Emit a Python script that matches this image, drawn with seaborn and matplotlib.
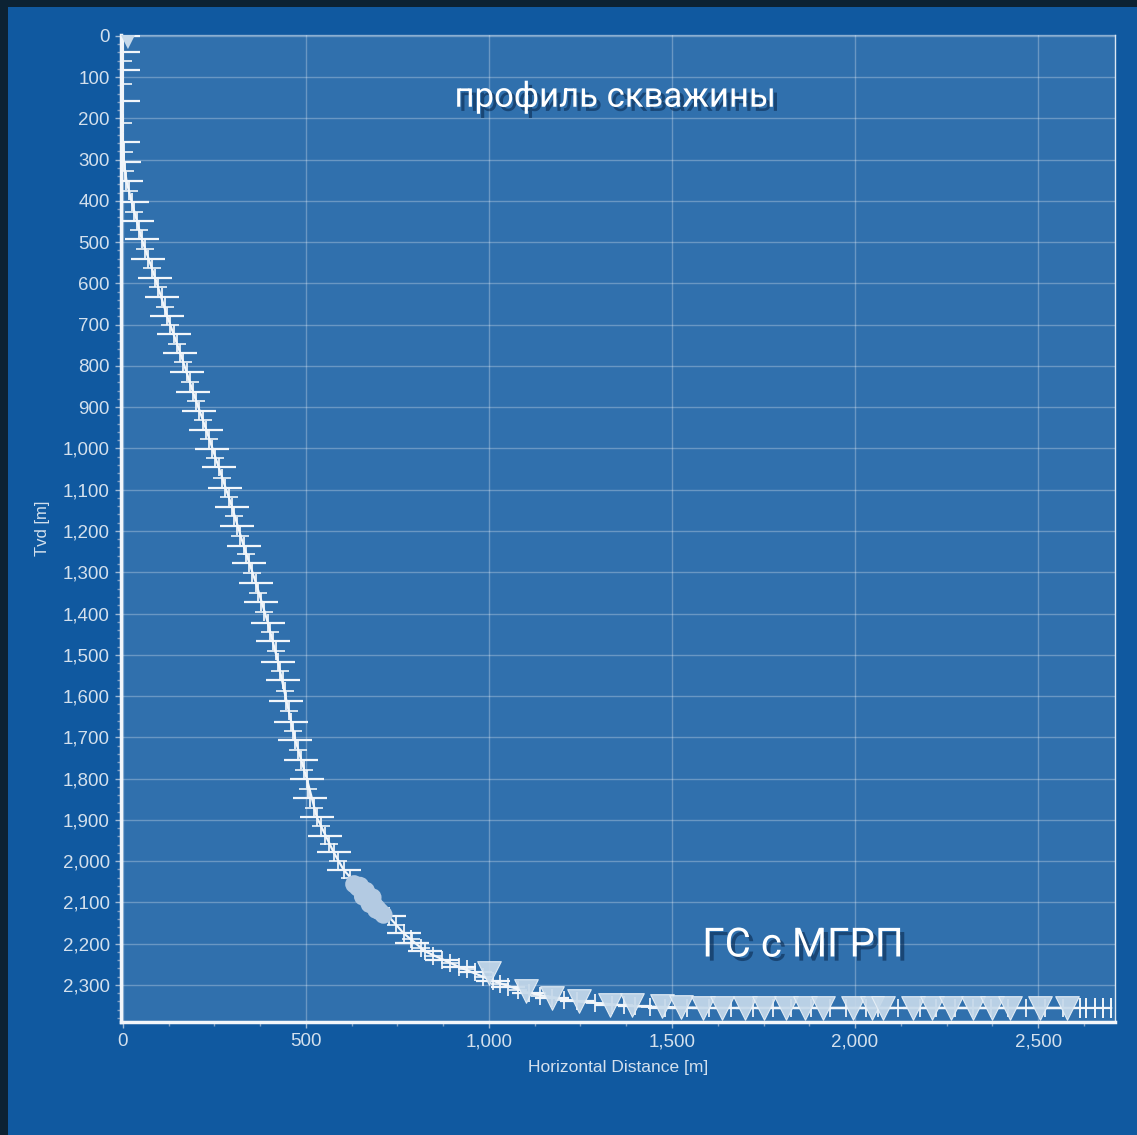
import numpy as np
import pandas as pd
import seaborn as sns
import matplotlib.pyplot as plt
from matplotlib.ticker import MultipleLocator, FuncFormatter
import matplotlib.patheffects as pe
from matplotlib.patches import Rectangle

sns.set_theme(style="white")
plt.rcParams['font.family'] = ['Liberation Sans', 'DejaVu Sans']

# ---- data ----
# main survey stations (long bars)
st_tvd = [0, 38, 84, 158, 258, 306, 352, 402, 448, 493, 540, 586, 632, 679, 723, 769,
          814, 864, 909, 955, 1001, 1046, 1096, 1141, 1187, 1236, 1278, 1327, 1372, 1422,
          1466, 1517, 1562, 1612, 1662, 1706, 1756, 1802, 1848, 1894, 1939, 1979, 2021,
          2134, 2175, 2199, 2219, 2240, 2256, 2268, 2290, 2304, 2320, 2332, 2340, 2349,
          2352, 2355, 2356, 2356, 2356, 2356, 2356, 2356, 2356, 2356, 2356, 2356, 2356,
          2356, 2356, 2356, 2356, 2356, 2356, 2356, 2356, 2356, 2356]
st_hd = [0, 0, 0, 0, 1, 3, 10, 24, 38, 52, 70, 88, 106, 121, 139, 157,
         174, 192, 209, 228, 244, 262, 280, 298, 312, 330, 344, 364, 377, 396,
         410, 424, 437, 447, 460, 471, 486, 503, 512, 530, 553, 576, 603,
         726, 767, 790, 826, 871, 917, 962, 1010, 1053, 1110, 1172, 1240, 1335,
         1400, 1480, 1540, 1600, 1660, 1720, 1775, 1826, 1880, 1932, 1976, 2030, 2063,
         2118, 2178, 2221, 2273, 2322, 2371, 2418, 2467, 2518, 2568]
# intermediate stations (short bars)
mid_tvd = [60, 117, 212, 282, 327, 377, 426, 470, 517, 563, 609, 656, 701, 746, 791,
           839, 886, 932, 978, 1023, 1071, 1118, 1164, 1211, 1257, 1302, 1350, 1397,
           1444, 1491, 1540, 1587, 1637, 1684, 1731, 1779, 1825, 1871, 1916, 1959, 2000,
           2040, 2155, 2188, 2210, 2230, 2248, 2262, 2280, 2297, 2312, 2326, 2336, 2345,
           2350, 2353]
mid_hd = [0, 0, 0, 2, 6, 16, 31, 45, 61, 79, 97, 114, 130, 148, 165,
          183, 200, 218, 236, 253, 271, 289, 305, 321, 337, 354, 370, 386,
          403, 417, 430, 442, 453, 465, 478, 494, 507, 521, 541, 564, 589,
          620, 746, 788, 815, 848, 894, 940, 985, 1030, 1080, 1140, 1205, 1290,
          1370, 1440]
# tail of vertical bars at end of lateral
tail_hd = [2614, 2630, 2655, 2677, 2698]
tail_tvd = [2356, 2356, 2356, 2356, 2356]
# frac-stage (perforation) markers
frac_hd = [1000, 1100, 1172, 1245, 1331, 1390, 1474, 1525, 1586, 1637, 1699, 1750,
           1811, 1862, 1913, 1995, 2046, 2077, 2158, 2210, 2261, 2322, 2373, 2424,
           2506, 2578]
frac_tvd = [2272, 2316, 2332, 2338, 2348, 2350, 2352, 2354, 2355, 2355, 2355, 2355,
            2355, 2355, 2355, 2355, 2355, 2355, 2355, 2355, 2355, 2355, 2355, 2355,
            2355, 2355]
# dense cluster near the end of the build section
blob_hd = [632, 642, 652, 662, 670, 678, 686, 694, 702, 712, 648, 664, 682, 656, 674, 692]
blob_tvd = [2056, 2064, 2072, 2080, 2090, 2098, 2106, 2114, 2122, 2130, 2060, 2072, 2088,
            2086, 2104, 2118]
# wellhead marker
head_hd = [14]
head_tvd = [12]
# full trajectory line
traj_tvd = [0, 250, 306, 352, 402, 493, 586, 679, 769, 864, 955, 1046, 1141, 1236,
            1327, 1422, 1517, 1612, 1706, 1802, 1894, 1979, 2021, 2086, 2134, 2175,
            2219, 2256, 2290, 2320, 2340, 2352, 2356, 2356]
traj_hd = [0, 0, 3, 10, 24, 52, 88, 121, 157, 192, 228, 262, 298, 330,
           364, 396, 424, 447, 471, 503, 530, 576, 603, 667, 726, 767,
           826, 917, 1010, 1110, 1240, 1400, 1600, 2700]

# ---- figure ----
W, H = 1137, 1135
fig = plt.figure(figsize=(W / 100, H / 100), dpi=100, facecolor='#0c2233')
fig.patches.append(Rectangle((8 / W, 0), 1, (H - 7) / H, transform=fig.transFigure,
                             facecolor='#1059a0', edgecolor='none', zorder=-10))
ax = fig.add_axes([121 / W, 113 / H, 994 / W, 987 / H])
ax.set_zorder(2)
ax.set_facecolor('#3070ad')

white = '#f2f6fa'
light = '#c6d9ea'

sns.lineplot(x=traj_hd, y=traj_tvd, sort=False, estimator=None, color=white,
             linewidth=1.6, ax=ax, zorder=3)
sns.scatterplot(x=st_hd, y=st_tvd, marker='_', s=25 ** 2, color=white,
                linewidth=1.6, ax=ax, zorder=4)
sns.scatterplot(x=mid_hd, y=mid_tvd, marker='_', s=13 ** 2, color=white,
                linewidth=1.4, ax=ax, zorder=4, alpha=0.85)
sns.scatterplot(x=st_hd + mid_hd, y=st_tvd + mid_tvd, marker='|', s=13 ** 2,
                color=white, linewidth=1.4, ax=ax, zorder=4, alpha=0.9)
sns.scatterplot(x=tail_hd, y=tail_tvd, marker='|', s=14 ** 2, color=white,
                linewidth=1.4, ax=ax, zorder=4)
sns.scatterplot(x=blob_hd, y=blob_tvd, marker='o', s=13 ** 2, color='#b3cae2',
                edgecolor='none', ax=ax, zorder=5)
sns.scatterplot(x=frac_hd, y=frac_tvd, marker='v', s=17 ** 2, color=light,
                edgecolor='#e8f0f7', linewidth=0.8, ax=ax, zorder=5, alpha=0.92)
sns.scatterplot(x=head_hd, y=head_tvd, marker='v', s=12 ** 2, color=light,
                edgecolor='none', ax=ax, zorder=5)

ax.set_xlim(-5, 2710)
ax.set_ylim(2390, -2)

ax.xaxis.set_major_locator(MultipleLocator(500))
ax.xaxis.set_minor_locator(MultipleLocator(125))
ax.yaxis.set_major_locator(MultipleLocator(100))
ax.yaxis.set_minor_locator(MultipleLocator(20))
fmt = FuncFormatter(lambda v, p: f"{int(round(v)):,}")
ax.xaxis.set_major_formatter(fmt)
ax.yaxis.set_major_formatter(fmt)

ax.grid(True, which='major', color='white', alpha=0.28, linewidth=1.0)
ax.set_axisbelow(True)

tick_col = '#d3e0ed'
ax.tick_params(axis='both', which='major', direction='out', length=4, width=1,
               color='#9fb9d4', labelcolor=tick_col, labelsize=13.5, pad=4)
ax.tick_params(axis='both', which='minor', direction='out', length=3, width=1,
               color='#7f9fc4')
ax.tick_params(axis='x', bottom=True, which='both')
ax.tick_params(axis='y', left=True, which='both')

for side in ['left', 'bottom']:
    ax.spines[side].set_color(white)
    ax.spines[side].set_linewidth(2.5)
for side in ['top', 'right']:
    ax.spines[side].set_color('#dce7f2')
    ax.spines[side].set_linewidth(1.0)
ax.spines['top'].set_alpha(0.5)

ax.set_xlabel('Horizontal Distance [m]', color=tick_col, fontsize=12.5, labelpad=7)
ax.set_ylabel('Tvd [m]', color=tick_col, fontsize=12, labelpad=9)

shadow = [pe.withSimplePatchShadow(offset=(3, -3), shadow_rgbFace='#0a2a50', alpha=0.6)]
fam = ['Roboto', 'DejaVu Sans']
fig.text(615 / W, 1 - 97 / H, 'профиль скважины', color='white', fontsize=25,
         family=fam, ha='center', va='center', path_effects=shadow)
fig.text(803 / W, 1 - 945 / H, 'ГС с МГРП', color='white', fontsize=29,
         family=fam, ha='center', va='center', path_effects=shadow)

fig.savefig('out.png', dpi=100, facecolor=fig.get_facecolor())
